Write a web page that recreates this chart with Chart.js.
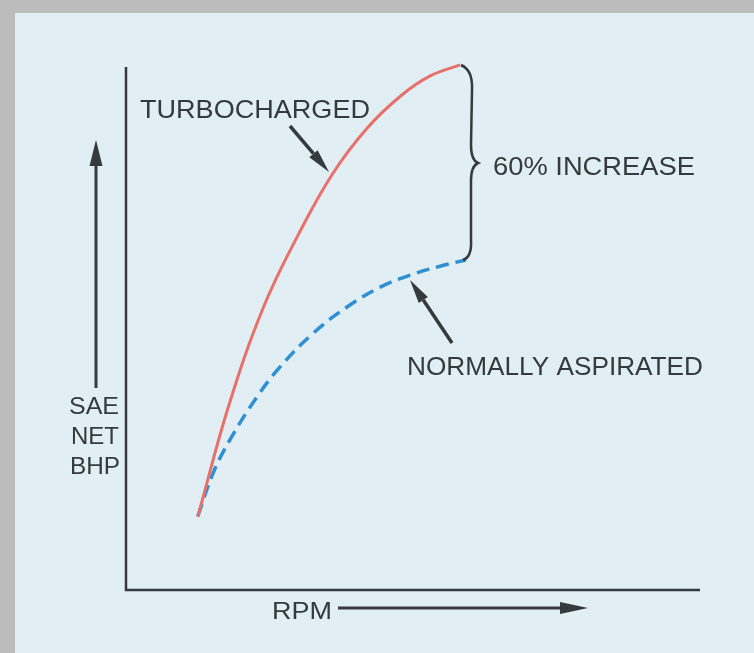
<!DOCTYPE html>
<html>
<head>
<meta charset="utf-8">
<script src="https://cdn.jsdelivr.net/npm/chart.js@4.4.1/dist/chart.umd.min.js"></script>
<style>
  html, body { margin: 0; padding: 0; background: #bcbcbc; }
  #wrap { position: absolute; left: 0; top: 0; width: 754px; height: 653px; }
  #panel { position: absolute; left: 15px; top: 13px; right: 0; bottom: 0; background: #e1eef3; }
  canvas { position: absolute; left: 0; top: 0; }
</style>
</head>
<body>
<div id="wrap">
  <div id="panel"></div>
  <canvas id="chart" width="754" height="653"></canvas>
</div>
<script>
// values (RPM and BHP in relative units, 0-100)
const turboRpm  = [12.5, 18.0, 24.0, 30.0, 36.0, 42.0, 48.0, 53.0, 58.2];
const turboBhp  = [14.0, 35.6, 54.2, 67.9, 79.6, 88.3, 94.6, 98.3, 100.4];
const normalRpm = [12.5, 15.2, 18.1, 22.8, 26.8, 32.6, 38.5, 44.3, 49.5, 54.7, 59.2];
const normalBhp = [14.1, 22.4, 28.7, 36.9, 42.6, 49.1, 54.1, 57.9, 60.2, 61.9, 63.1];

const ink = '#343a3d';
const font = '"Liberation Sans", Arial, sans-serif';

function toPoints(xs, ys) {
    return xs.map((x, i) => ({ x: x, y: ys[i] }));
}

// text squeezed/stretched to the width it has in the picture
function fitText(ctx, text, left, baseline, width, size) {
    ctx.save();
    ctx.font = size + 'px ' + font;
    const w = ctx.measureText(text).width;
    ctx.translate(left, baseline);
    ctx.scale(width / w, 1);
    ctx.fillStyle = ink;
    ctx.textBaseline = 'alphabetic';
    ctx.fillText(text, 0, 0);
    ctx.restore();
}

function arrow(ctx, x1, y1, x2, y2, headLen, headW, lw) {
    const a = Math.atan2(y2 - y1, x2 - x1);
    const bx = x2 - Math.cos(a) * headLen;
    const by = y2 - Math.sin(a) * headLen;
    ctx.save();
    ctx.strokeStyle = ink;
    ctx.fillStyle = ink;
    ctx.lineWidth = lw;
    ctx.beginPath();
    ctx.moveTo(x1, y1);
    ctx.lineTo(bx, by);
    ctx.stroke();
    ctx.beginPath();
    ctx.moveTo(x2, y2);
    ctx.lineTo(bx + Math.sin(a) * headW / 2, by - Math.cos(a) * headW / 2);
    ctx.lineTo(bx - Math.sin(a) * headW / 2, by + Math.cos(a) * headW / 2);
    ctx.closePath();
    ctx.fill();
    ctx.restore();
}

const decorations = {
    id: 'decorations',
    beforeDatasetsDraw(chart) {
        const ctx = chart.ctx;
        const x = chart.scales.x, y = chart.scales.y;
        // axes
        ctx.save();
        ctx.strokeStyle = ink;
        ctx.lineWidth = 2.5;
        ctx.beginPath();
        ctx.moveTo(x.getPixelForValue(0), y.getPixelForValue(100));
        ctx.lineTo(x.getPixelForValue(0), y.getPixelForValue(0));
        ctx.lineTo(x.getPixelForValue(100), y.getPixelForValue(0));
        ctx.stroke();
        ctx.restore();
    },
    afterDatasetsDraw(chart) {
        const ctx = chart.ctx;
        // axis titles
        fitText(ctx, 'SAE', 69, 414, 50, 24);
        fitText(ctx, 'NET', 71, 444, 48, 24);
        fitText(ctx, 'BHP', 70, 474, 50, 24);
        arrow(ctx, 96, 388, 96, 140, 26, 13, 3);
        fitText(ctx, 'RPM', 272, 619, 60, 24);
        arrow(ctx, 338, 608, 588, 608, 28, 12, 3);

        // series labels
        fitText(ctx, 'TURBOCHARGED', 140, 118, 230, 26);
        arrow(ctx, 290, 126, 329, 172, 24, 11, 3.5);
        fitText(ctx, 'NORMALLY ASPIRATED', 407, 375, 296, 26);
        arrow(ctx, 452, 343, 410, 280, 24, 11, 3.5);
        fitText(ctx, '60% INCREASE', 493, 175, 202, 26);

        // curly brace
        ctx.save();
        ctx.strokeStyle = ink;
        ctx.lineWidth = 2.5;
        ctx.beginPath();
        ctx.moveTo(461, 65);
        ctx.quadraticCurveTo(473, 70, 472, 90);
        ctx.lineTo(471, 145);
        ctx.quadraticCurveTo(471, 160, 478, 163);
        ctx.quadraticCurveTo(471, 166, 471, 181);
        ctx.lineTo(471, 240);
        ctx.quadraticCurveTo(472, 257, 463, 260);
        ctx.stroke();
        ctx.restore();
    }
};

new Chart(document.getElementById('chart'), {
    type: 'line',
    data: {
        datasets: [{
            label: 'Turbocharged',
            data: toPoints(turboRpm, turboBhp),
            borderColor: '#e8706a',
            borderWidth: 3,
            pointRadius: 0,
            tension: 0.4,
            clip: false
        }, {
            label: 'Normally aspirated',
            data: toPoints(normalRpm, normalBhp),
            borderColor: '#2e8fd3',
            borderWidth: 3.5,
            borderDash: [13, 7],
            pointRadius: 0,
            tension: 0.4,
            clip: false
        }]
    },
    options: {
        responsive: false,
        animation: false,
        layout: { padding: { left: 126, right: 54, top: 67, bottom: 63 } },
        plugins: { legend: { display: false }, tooltip: { enabled: false } },
        scales: {
            x: { type: 'linear', min: 0, max: 100, display: false },
            y: { type: 'linear', min: 0, max: 100, display: false }
        }
    },
    plugins: [decorations]
});
</script>
</body>
</html>
